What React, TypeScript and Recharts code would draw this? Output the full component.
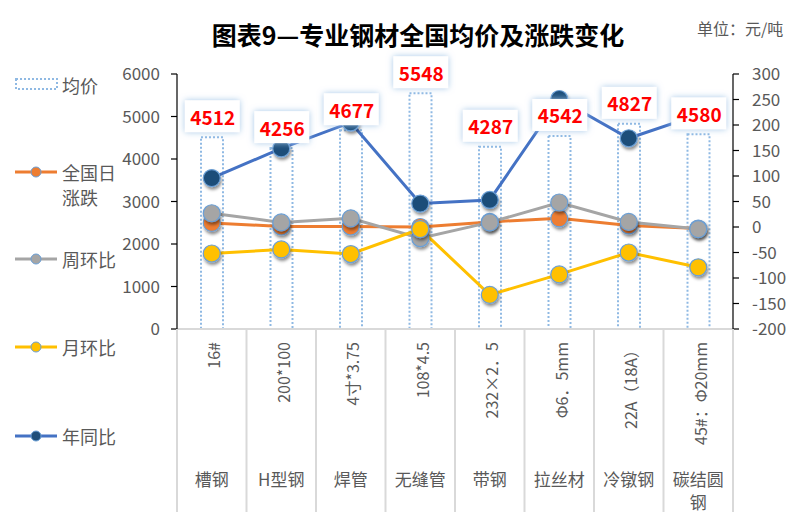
import React from 'react';
import { ComposedChart, Bar, Line, XAxis, YAxis, LabelList } from 'recharts';

// ---------- data ----------
const categories = ['槽钢', 'H型钢', '焊管', '无缝管', '带钢', '拉丝材', '冷镦钢', '碳结圆钢'];
const specs = ['16#', '200*100', '4寸*3.75', '108*4.5', '232×2．5', 'Φ6．5mm', '22A（18A）', '45#：Φ20mm'];
const avgPrice = [4512, 4256, 4677, 5548, 4287, 4542, 4827, 4580];
const dailyChange = [8, 1, 1, 0, 10, 17, 3, -3];
const weekChange = [27, 9, 17, -22, 9, 48, 10, -4];
const monthChange = [-52, -44, -53, -4, -133, -93, -50, -79];
const yearChange = [96, 154, 205, 46, 53, 251, 174, 220];
const leftTicks = [0, 1000, 2000, 3000, 4000, 5000, 6000];
const rightTicks = [-200, -150, -100, -50, 0, 50, 100, 150, 200, 250, 300];

const data = categories.map((name, i) => ({
  name,
  spec: specs[i],
  avg: avgPrice[i],
  daily: dailyChange[i],
  week: weekChange[i],
  month: monthChange[i],
  year: yearChange[i],
}));

// ---------- layout / style ----------
const W = 804;
const H = 512;
const PLOT_LEFT = 177;
const PLOT_RIGHT = 733;
const PLOT_TOP = 74;
const PLOT_BOTTOM = 329;
const BW = (PLOT_RIGHT - PLOT_LEFT) / categories.length;
const FONT = '"Noto Sans CJK SC", "Noto Sans", sans-serif';
const TEXT = '#595959';
const GRID = '#d9d9d9';
const BAR_STROKE = '#8fb9e3';
const DOT_STROKE = '#6a9fd6';

const lineSeries = [
  { key: 'daily', label: ['全国日', '涨跌'], line: '#ed7d31', dot: '#ed7d31', ly: 172 },
  { key: 'week', label: ['周环比'], line: '#a5a5a5', dot: '#a5a5a5', ly: 259 },
  { key: 'month', label: ['月环比'], line: '#ffc000', dot: '#ffc000', ly: 347 },
  { key: 'year', label: ['年同比'], line: '#4472c4', dot: '#1f4e79', ly: 436 },
];

const makeDot = (fill: string) => (props: any) => {
  const { cx, cy, index } = props;
  if (cx == null || cy == null) return <g key={`e${index}`} />;
  return (
    <circle
      key={`d${index}`}
      cx={cx}
      cy={cy}
      r={8.5}
      fill={fill}
      stroke={DOT_STROKE}
      strokeWidth={1.2}
      filter="url(#dotShadow)"
    />
  );
};

const PriceLabel = (props: any) => {
  const { x, y, value } = props;
  if (x == null || y == null) return null;
  return (
    <g>
      <rect x={x - 27} y={y - 37} width={55} height={32} fill="#fff" filter="url(#glow)" />
      <text
        x={x + 1}
        y={y - 21}
        textAnchor="middle"
        dominantBaseline="central"
        fill="#ff0000"
        fontWeight="bold"
        fontSize={19}
        fontFamily={FONT}
      >
        {value}
      </text>
    </g>
  );
};

const CategoryTick = (props: any) => {
  const { x, payload } = props;
  const i = payload.index;
  const half = BW / 2;
  const name: string = categories[i] ?? payload.value;
  const nameLines = name.length > 3 ? [name.slice(0, 3), name.slice(3)] : [name];
  return (
    <g>
      <line x1={x - half} x2={x - half} y1={PLOT_BOTTOM} y2={H} stroke={GRID} strokeWidth={2} />
      {i === categories.length - 1 && (
        <line x1={x + half} x2={x + half} y1={PLOT_BOTTOM} y2={H} stroke={GRID} strokeWidth={2} />
      )}
      <text
        x={x + 1.5}
        y={342}
        transform={`rotate(-90 ${x + 1.5} 342)`}
        textAnchor="end"
        dominantBaseline="central"
        fontSize={16}
        fill={TEXT}
        fontFamily={FONT}
      >
        {specs[i]}
      </text>
      {nameLines.map((t, k) => (
        <text
          key={k}
          x={x}
          y={478 + k * 23}
          textAnchor="middle"
          dominantBaseline="central"
          fontSize={17}
          fill={TEXT}
          fontFamily={FONT}
        >
          {t}
        </text>
      ))}
    </g>
  );
};

export default function App() {
  return (
    <div style={{ position: 'absolute', left: 0, top: 0, width: W, height: H, background: '#fff' }}>
      <ComposedChart
        width={W}
        height={H}
        data={data}
        margin={{ top: PLOT_TOP, right: W - PLOT_RIGHT - 60, bottom: 0, left: PLOT_LEFT - 60 }}
      >
        <XAxis
          dataKey="name"
          xAxisId="x"
          height={H - PLOT_BOTTOM}
          interval={0}
          tickLine={false}
          tickSize={0}
          tickMargin={0}
          axisLine={{ stroke: GRID, strokeWidth: 2 }}
          tick={<CategoryTick />}
        />
        <YAxis
          yAxisId="left"
          orientation="left"
          width={60}
          domain={[0, 6000]}
          ticks={leftTicks}
          interval={0}
          axisLine={{ stroke: '#000', strokeWidth: 1.2 }}
          tickLine={{ stroke: '#000', strokeWidth: 1.2 }}
          tickSize={6}
          tickMargin={11}
          tick={{ fontSize: 17, fill: TEXT, fontFamily: FONT }}
        />
        <YAxis
          yAxisId="right"
          orientation="right"
          width={60}
          domain={[-200, 300]}
          ticks={rightTicks}
          interval={0}
          axisLine={{ stroke: '#000', strokeWidth: 1.2 }}
          tickLine={{ stroke: '#000', strokeWidth: 1.2 }}
          tickSize={6}
          tickMargin={13}
          tick={{ fontSize: 17, fill: TEXT, fontFamily: FONT }}
        />
        <Bar
          xAxisId="x"
          yAxisId="left"
          dataKey="avg"
          barSize={22}
          fill="#ffffff"
          fillOpacity={0}
          stroke={BAR_STROKE}
          strokeWidth={2}
          strokeDasharray="2 2"
          isAnimationActive={false}
        />
        {lineSeries.map((s) => (
          <Line
            key={s.key}
            xAxisId="x"
            yAxisId="right"
            dataKey={s.key}
            stroke={s.line}
            strokeWidth={3}
            dot={makeDot(s.dot)}
            activeDot={false}
            isAnimationActive={false}
          />
        ))}
        <Line
          xAxisId="x"
          yAxisId="left"
          dataKey="avg"
          stroke="none"
          dot={false}
          activeDot={false}
          legendType="none"
          isAnimationActive={false}
        >
          <LabelList dataKey="avg" content={<PriceLabel />} />
        </Line>
      </ComposedChart>
      <svg
        width={W}
        height={H}
        style={{ position: 'absolute', left: 0, top: 0, pointerEvents: 'none' }}
      >
        <defs>
          <filter id="glow" x="-40%" y="-40%" width="180%" height="180%">
            <feDropShadow dx="0" dy="0" stdDeviation="3" floodColor="#9dc3e6" floodOpacity="0.9" />
          </filter>
          <filter id="dotShadow" x="-60%" y="-60%" width="220%" height="220%">
            <feDropShadow dx="1" dy="2.5" stdDeviation="1.6" floodColor="#000" floodOpacity="0.45" />
          </filter>
        </defs>
        <text
          x={418}
          y={34}
          textAnchor="middle"
          dominantBaseline="central"
          fontSize={25}
          fontWeight="bold"
          fill="#000"
          fontFamily={FONT}
        >
          图表9—专业钢材全国均价及涨跌变化
        </text>
        <text x={697} y={28} dominantBaseline="central" fontSize={16} fill={TEXT} fontFamily={FONT}>
          单位：元/吨
        </text>
        {/* legend */}
        <rect x={16} y={79} width={41} height={10} fill="none" stroke={BAR_STROKE} strokeWidth={2} strokeDasharray="2 2" />
        <text x={62} y={85} dominantBaseline="central" fontSize={18} fill={TEXT} fontFamily={FONT}>
          均价
        </text>
        {lineSeries.map((s) => (
          <g key={s.key}>
            <line x1={15} x2={57} y1={s.ly} y2={s.ly} stroke={s.line} strokeWidth={3} />
            <circle cx={36} cy={s.ly} r={5} fill={s.dot} stroke={DOT_STROKE} strokeWidth={1} />
            {s.label.map((t, k) => (
              <text
                key={k}
                x={62}
                y={s.ly + k * 25}
                dominantBaseline="central"
                fontSize={18}
                fill={TEXT}
                fontFamily={FONT}
              >
                {t}
              </text>
            ))}
          </g>
        ))}
      </svg>
    </div>
  );
}
